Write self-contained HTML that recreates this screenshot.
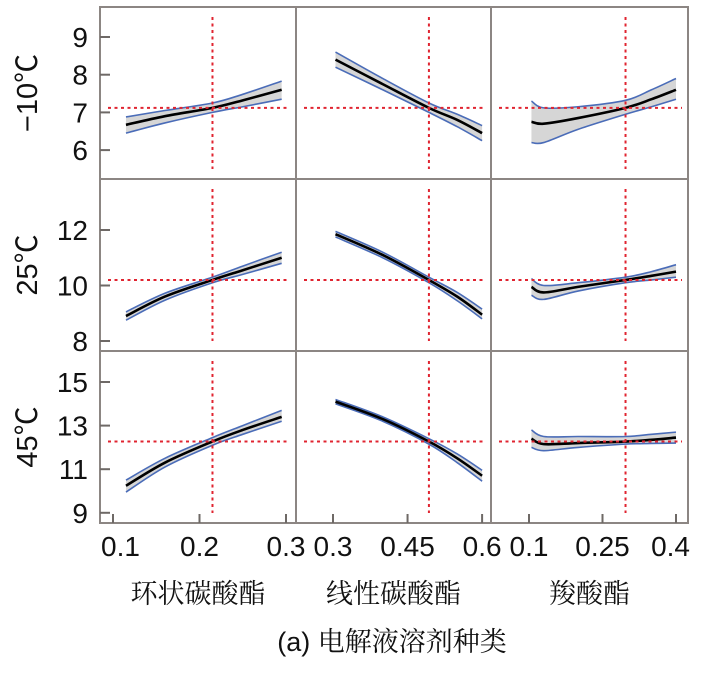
<!DOCTYPE html>
<html><head><meta charset="utf-8">
<style>
html,body{margin:0;padding:0;background:#fff;}
body{width:704px;height:683px;overflow:hidden;}
svg{display:block;}
</style></head>
<body>
<svg id="chart" width="704" height="683" viewBox="0 0 704 683" xmlns="http://www.w3.org/2000/svg"></svg>
<script>
// ---- data ----
const rowLabels = ["−10℃", "25℃", "45℃"];
const colLabels = ["环状碳酸酯", "线性碳酸酯", "羧酸酯"];
const row1Ticks = [9, 8, 7, 6];
const row2Ticks = [12, 10, 8];
const row3Ticks = [15, 13, 11, 9];
const col1Ticks = ["0.1", "0.2", "0.3"];
const col2Ticks = ["0.3", "0.45", "0.6"];
const col3Ticks = ["0.1", "0.25", "0.4"];
const col1TickVals = [0.1, 0.2, 0.3];
const col2TickVals = [0.3, 0.45, 0.6];
const col3TickVals = [0.1, 0.25, 0.4];
const refX = [0.215, 0.493, 0.297];
const refY = [7.12, 10.2, 12.27];

const xC1 = [0.115, 0.16, 0.215, 0.25, 0.295];
const xC2 = [0.305, 0.4, 0.493, 0.55, 0.6];
const xC3 = [0.105, 0.13, 0.2, 0.297, 0.35, 0.4];

const r1c1Mean = [6.67, 6.9, 7.12, 7.32, 7.6];
const r1c1Up   = [6.88, 7.05, 7.25, 7.48, 7.83];
const r1c1Lo   = [6.45, 6.72, 7.0, 7.15, 7.35];
const r1c2Mean = [8.4, 7.75, 7.12, 6.8, 6.45];
const r1c2Up   = [8.6, 7.9, 7.25, 6.95, 6.65];
const r1c2Lo   = [8.2, 7.6, 7.0, 6.62, 6.25];
const r1c3Mean = [6.75, 6.7, 6.85, 7.12, 7.35, 7.6];
const r1c3Up   = [7.3, 7.12, 7.15, 7.32, 7.6, 7.9];
const r1c3Lo   = [6.2, 6.2, 6.55, 6.95, 7.15, 7.35];

const r2c1Mean = [8.9, 9.6, 10.2, 10.55, 11.0];
const r2c1Up   = [9.05, 9.72, 10.3, 10.7, 11.2];
const r2c1Lo   = [8.75, 9.47, 10.1, 10.4, 10.8];
const r2c2Mean = [11.85, 11.1, 10.2, 9.6, 8.95];
const r2c2Up   = [11.95, 11.2, 10.3, 9.75, 9.15];
const r2c2Lo   = [11.75, 11.0, 10.1, 9.45, 8.8];
const r2c3Mean = [9.95, 9.75, 9.95, 10.2, 10.35, 10.5];
const r2c3Up   = [10.25, 10.0, 10.1, 10.3, 10.5, 10.75];
const r2c3Lo   = [9.65, 9.5, 9.8, 10.1, 10.2, 10.3];

const r3c1Mean = [10.24, 11.3, 12.27, 12.8, 13.4];
const r3c1Up   = [10.5, 11.5, 12.45, 13.0, 13.7];
const r3c1Lo   = [9.95, 11.1, 12.1, 12.6, 13.2];
const r3c2Mean = [14.1, 13.3, 12.27, 11.5, 10.7];
const r3c2Up   = [14.2, 13.4, 12.4, 11.7, 10.95];
const r3c2Lo   = [14.0, 13.2, 12.15, 11.3, 10.45];
const r3c3Mean = [12.4, 12.15, 12.2, 12.27, 12.35, 12.45];
const r3c3Up   = [12.8, 12.5, 12.5, 12.5, 12.6, 12.7];
const r3c3Lo   = [12.0, 11.85, 12.0, 12.15, 12.18, 12.2];

// ---- geometry ----
const NS = "http://www.w3.org/2000/svg";
const svg = document.getElementById("chart");
const colBox = [[100, 296], [296, 491], [491, 688]];
const rowBox = [[7, 179], [179, 351], [351, 523]];
const xScales = [
  v => 113 + (v - 0.1) * 865,
  v => 333 + (v - 0.3) * 497,
  v => 529 + (v - 0.1) * 490
];
const yScales = [
  v => 37 + (9 - v) * 37.7,
  v => 230 + (12 - v) * 27.75,
  v => 382 + (15 - v) * 21.8
];
const xsets = [xC1, xC2, xC3];
const series = [
  [[r1c1Mean, r1c1Up, r1c1Lo], [r1c2Mean, r1c2Up, r1c2Lo], [r1c3Mean, r1c3Up, r1c3Lo]],
  [[r2c1Mean, r2c1Up, r2c1Lo], [r2c2Mean, r2c2Up, r2c2Lo], [r2c3Mean, r2c3Up, r2c3Lo]],
  [[r3c1Mean, r3c1Up, r3c1Lo], [r3c2Mean, r3c2Up, r3c2Lo], [r3c3Mean, r3c3Up, r3c3Lo]]
];
const rowTicks = [row1Ticks, row2Ticks, row3Ticks];
const colTickLabels = [col1Ticks, col2Ticks, col3Ticks];
const colTickVals = [col1TickVals, col2TickVals, col3TickVals];

function mk(tag, attrs) {
  const e = document.createElementNS(NS, tag);
  for (const k in attrs) e.setAttribute(k, attrs[k]);
  svg.appendChild(e);
  return e;
}
function smooth(pts) {
  let d = "M" + pts[0][0] + "," + pts[0][1];
  for (let i = 0; i < pts.length - 1; i++) {
    const p0 = pts[Math.max(0, i - 1)], p1 = pts[i], p2 = pts[i + 1], p3 = pts[Math.min(pts.length - 1, i + 2)];
    const c1 = [p1[0] + (p2[0] - p0[0]) / 6, p1[1] + (p2[1] - p0[1]) / 6];
    const c2 = [p2[0] - (p3[0] - p1[0]) / 6, p2[1] - (p3[1] - p1[1]) / 6];
    d += " C" + c1[0] + "," + c1[1] + " " + c2[0] + "," + c2[1] + " " + p2[0] + "," + p2[1];
  }
  return d;
}
function smoothCont(pts) {
  return smooth(pts).replace(/^M/, "L");
}

for (let r = 0; r < 3; r++) {
  for (let c = 0; c < 3; c++) {
    const xs = xsets[c], sx = xScales[c], sy = yScales[r];
    const [mean, up, lo] = series[r][c];
    const upPts = xs.map((x, i) => [sx(x), sy(up[i])]);
    const loPts = xs.map((x, i) => [sx(x), sy(lo[i])]).reverse();
    const band = mk("path", { d: smooth(upPts) + " " + smoothCont(loPts) + " Z", fill: "#d6d6d6", stroke: "none" });
    
    
    const ul = mk("path", { d: smooth(upPts), fill: "none", stroke: "#4a6cb8", "stroke-width": 1.6 });
    
    
    const ll = mk("path", { d: smooth(loPts), fill: "none", stroke: "#4a6cb8", "stroke-width": 1.6 });
    
    
    const mPts = xs.map((x, i) => [sx(x), sy(mean[i])]);
    const ml = mk("path", { d: smooth(mPts), fill: "none", stroke: "#000", "stroke-width": 2.6 });
    
    
    const hy = sy(refY[r]);
    const h = mk("line", { x1: colBox[c][0] + 8, x2: colBox[c][1] - 6, y1: hy, y2: hy, stroke: "#e02430", "stroke-width": 2, "stroke-dasharray": "3,3.5" });
    
    
    const vx = sx(refX[c]);
    const v = mk("line", { x1: vx, x2: vx, y1: rowBox[r][0] + 10, y2: rowBox[r][1] - 10, stroke: "#e02430", "stroke-width": 2, "stroke-dasharray": "3,3.5" });
    
    
  }
}

const frame = mk("rect", { x: 100, y: 7, width: 588, height: 516, fill: "none", stroke: "#8c8683", "stroke-width": 2 });


[296, 491].forEach((x, i) => {
  const l = mk("line", { x1: x, x2: x, y1: 7, y2: 523, stroke: "#8c8683", "stroke-width": 2 });
  
  
});
[179, 351].forEach((y, i) => {
  const l = mk("line", { x1: 100, x2: 688, y1: y, y2: y, stroke: "#8c8683", "stroke-width": 2 });
  
  
});

for (let r = 0; r < 3; r++) {
  rowTicks[r].forEach(t => {
    const y = yScales[r](t);
    const tk = mk("line", { x1: 100, x2: 110, y1: y, y2: y, stroke: "#6e6966", "stroke-width": 2 });
    
    
    const tx = mk("text", { x: 88, y: y + 10, "text-anchor": "end", "font-family": "Liberation Sans, sans-serif", "font-size": 28, fill: "#111" });
    tx.textContent = t;
    
    
  });
  const cy = (rowBox[r][0] + rowBox[r][1]) / 2;
  const rl = mk("text", { x: 0, y: 0, transform: "translate(37," + cy + ") rotate(-90)", "text-anchor": "middle", "font-family": "Liberation Sans, Noto Sans CJK SC, sans-serif", "font-size": 29, fill: "#111" });
  rl.textContent = rowLabels[r];
  
  
}
for (let c = 0; c < 3; c++) {
  colTickVals[c].forEach((v, i) => {
    const x = xScales[c](v);
    const tk = mk("line", { x1: x, x2: x, y1: 523, y2: 514, stroke: "#6e6966", "stroke-width": 2 });
    
    
    let anchor = "middle", tx0 = x;
    if (c === 0 && i === 0) { anchor = "start"; tx0 = 101; }
    if (c === 2 && i === 2) { anchor = "end"; tx0 = 690; }
    const tx = mk("text", { x: tx0, y: 556, "text-anchor": anchor, "font-family": "Liberation Sans, sans-serif", "font-size": 28, fill: "#111" });
    tx.textContent = colTickLabels[c][i];
    
    
  });
  const cl = mk("text", { x: (colBox[c][0] + colBox[c][1]) / 2, y: 603, "text-anchor": "middle", "font-family": "Liberation Serif, Noto Serif CJK SC, serif", "font-size": 27, fill: "#111" });
  cl.textContent = colLabels[c];
  
  
}
const cap = mk("text", { x: 392, y: 651, "text-anchor": "middle", "font-family": "Liberation Sans, Noto Serif CJK SC, serif", "font-size": 27, fill: "#111" });
cap.textContent = "(a) 电解液溶剂种类";


</script>
</body></html>
